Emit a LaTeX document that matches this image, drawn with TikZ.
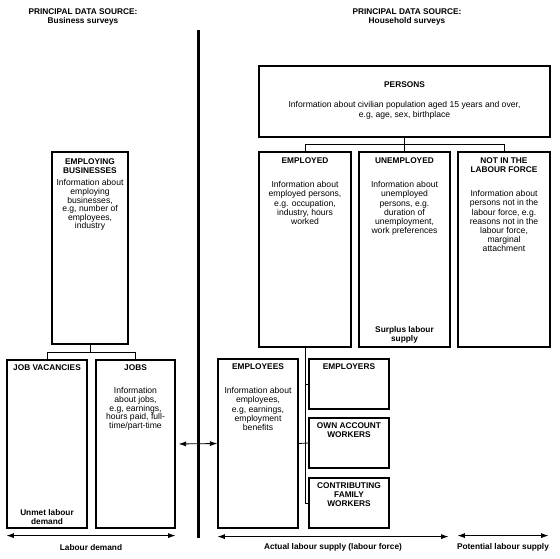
\documentclass[tikz,border=0pt]{standalone}
\usepackage{fontspec}
\setmainfont{Liberation Sans}
\usetikzlibrary{arrows.meta, positioning, calc}
\tikzset{
    >=Latex,
    font=\fontsize{8.6}{9}\selectfont,
    lf_box/.style={
        rectangle,
        draw,
        line width=1.2pt,
        inner sep=0pt
    },
    lf_title/.style={
        font=\fontsize{8.3}{9}\selectfont\bfseries,
        align=center,
        inner sep=0pt
    },
    lf_info/.style={
        font=\fontsize{8.6}{9.1}\selectfont,
        align=center,
        inner sep=0pt
    },
    lf_link/.style={
        line width=0.8pt
    },
    lf_arrow/.style={
        {Latex[length=7.5pt,width=5pt]}-{Latex[length=7.5pt,width=5pt]},
        line width=0.8pt
    },
    lf_divider/.style={
        line width=3pt
    }
}

\begin{document}
\begin{tikzpicture}[x=1pt, y=-1pt]
\useasboundingbox (0,0) rectangle (560,558);

% --- Data sources ---
\node[lf_title] (srcBus) at (83,17) {PRINCIPAL DATA SOURCE:\\ Business surveys};
\node[lf_title] (srcHouse) at (407,17) {PRINCIPAL DATA SOURCE:\\ Household surveys};
\coordinate (divTop) at (198,30);
\coordinate (divBot) at (198,538);
\draw[lf_divider] (divTop) -- (divBot);

% --- Household side ---
\node[lf_box, minimum width=291pt, minimum height=71pt] (Persons) at (404.5,101.5) {};
\node[lf_title, below=16pt of Persons.north] (PersonsT) {PERSONS};
\node[lf_info, below=36pt of Persons.north, font=\fontsize{8.6}{10}\selectfont] (PersonsI) {Information about civilian population aged 15 years and over,\\ e.g, age, sex, birthplace};

\node[lf_box, minimum width=92pt, minimum height=195pt] (Employed) at (305,249.5) {};
\node[lf_box, minimum width=91pt, minimum height=195pt] (Unemployed) at (404.5,249.5) {};
\node[lf_box, minimum width=92pt, minimum height=195pt] (NotLF) at (504,249.5) {};

\node[lf_title, below=6pt of Employed.north] (EmployedT) {EMPLOYED};
\node[lf_info, below=30pt of Employed.north] (EmployedI) {Information about\\ employed persons,\\ e.g. occupation,\\ industry, hours\\ worked};
\node[lf_title, below=6pt of Unemployed.north] (UnemployedT) {UNEMPLOYED};
\node[lf_info, below=30pt of Unemployed.north] (UnemployedI) {Information about\\ unemployed\\ persons, e.g.\\ duration of\\ unemployment,\\ work preferences};
\node[lf_title, above=4pt of Unemployed.south] (UnemployedB) {Surplus labour\\ supply};
\node[lf_title, below=6pt of NotLF.north] (NotLFT) {NOT IN THE\\ LABOUR FORCE};
\node[lf_info, below=39pt of NotLF.north] (NotLFI) {Information about\\ persons not in the\\ labour force, e.g.\\ reasons not in the\\ labour force,\\ marginal\\ attachment};

\node[lf_box, minimum width=80pt, minimum height=169pt] (Employees) at (258,443.5) {};
\node[lf_box, minimum width=80pt, minimum height=50pt] (Employers) at (349,384) {};
\node[lf_box, minimum width=80pt, minimum height=50pt] (OwnAcc) at (349,443) {};
\node[lf_box, minimum width=80pt, minimum height=50pt] (Contrib) at (349,503) {};

\node[lf_title, below=5pt of Employees.north] (EmployeesT) {EMPLOYEES};
\node[lf_info, below=29pt of Employees.north] (EmployeesI) {Information about\\ employees,\\ e.g, earnings,\\ employment\\ benefits};
\node[lf_title, below=5pt of Employers.north] (EmployersT) {EMPLOYERS};
\node[lf_title, below=5pt of OwnAcc.north] (OwnAccT) {OWN ACCOUNT\\ WORKERS};
\node[lf_title, below=5pt of Contrib.north] (ContribT) {CONTRIBUTING\\ FAMILY\\ WORKERS};

% --- Business side ---
\node[lf_box, minimum width=76pt, minimum height=192pt] (EmpBus) at (90,248) {};
\node[lf_title, below=7pt of EmpBus.north] (EmpBusT) {EMPLOYING\\ BUSINESSES};
\node[lf_info, below=28pt of EmpBus.north, font=\fontsize{8.6}{8.6}\selectfont] (EmpBusI) {Information about\\ employing\\ businesses,\\ e.g, number of\\ employees,\\ industry};

\node[lf_box, minimum width=80pt, minimum height=168pt] (JobVac) at (47,444) {};
\node[lf_box, minimum width=79pt, minimum height=168pt] (Jobs) at (135.5,444) {};
\node[lf_title, below=5pt of JobVac.north] (JobVacT) {JOB VACANCIES};
\node[lf_title, above=4pt of JobVac.south] (JobVacB) {Unmet labour\\ demand};
\node[lf_title, below=5pt of Jobs.north] (JobsT) {JOBS};
\node[lf_info, below=28pt of Jobs.north, font=\fontsize{8.6}{8.6}\selectfont] (JobsI) {Information\\ about jobs,\\ e.g, earnings,\\ hours paid, full-\\ time/part-time};

% --- Links ---
\coordinate (persSplit) at ($(Persons.south)+(0,7)$);
\draw[lf_link] (Persons.south) -- (persSplit);
\draw[lf_link] (Employed.north) -- (Employed.north |- persSplit) -- (NotLF.north |- persSplit) -- (NotLF.north);
\draw[lf_link] (Unemployed.north) -- (Unemployed.north |- persSplit);

\draw[lf_link] (Employed.south) -- (Employed.south |- Contrib.west) -- (Contrib.west);
\draw[lf_link] (Employers.west) -- (Employers.west -| Employed.south);
\draw[lf_link] (Employees.east) -- (OwnAcc.west);

\coordinate (busSplit) at ($(EmpBus.south)+(0,8)$);
\draw[lf_link] (EmpBus.south) -- (busSplit);
\draw[lf_link] (JobVac.north) -- (JobVac.north |- busSplit) -- (Jobs.north |- busSplit) -- (Jobs.north);

\draw[lf_arrow, shorten <=3pt, shorten >=0pt] (Jobs.east) -- (Employees.west);

% --- Labour measures ---
\coordinate (demL) at ($(JobVac.south west)+(0,7)$);
\coordinate (demR) at ($(Jobs.south east)+(0,7)$);
\coordinate (actL) at ($(Employees.south west)+(0,8)$);
\coordinate (actR) at ($(Unemployed.south east)+(-2,189)$);
\coordinate (potL) at ($(NotLF.south west)+(0,188)$);
\coordinate (potR) at ($(NotLF.south east)+(-2,188)$);
\draw[lf_arrow] (demL) -- (demR);
\draw[lf_arrow] (actL) -- (actR);
\draw[lf_arrow] (potL) -- (potR);
\node[lf_title] (DemandL) at ($(demL)!0.5!(demR)+(0,12)$) {Labour demand};
\node[lf_title] (ActualL) at ($(actL)!0.5!(actR)+(0,11)$) {Actual labour supply (labour force)};
\node[lf_title] (PotentialL) at ($(potL)!0.5!(potR)+(0,12)$) {Potential labour supply};

\end{tikzpicture}
\end{document}
